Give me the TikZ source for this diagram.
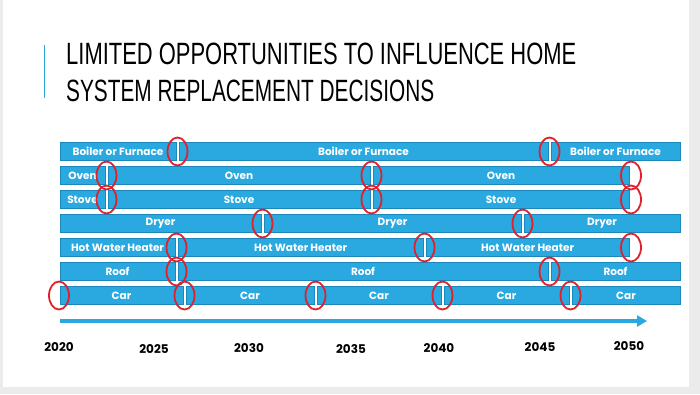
\documentclass[tikz,border=0pt]{standalone}
\usepackage{fontspec}
\setmainfont{Poppins}
\newfontfamily\titlefont{Liberation Sans}
\usetikzlibrary{shapes.geometric,arrows.meta}
\definecolor{barblue}{HTML}{2AA9E0}
\definecolor{baredge}{HTML}{1B88BC}
\definecolor{ringred}{HTML}{E0202A}
\definecolor{slidegray}{HTML}{EBEBEB}
\tikzset{
  segbox/.style={draw=baredge, fill=barblue, line width=0.7pt, minimum height=18pt,
    inner sep=0pt, text=white, font=\fontsize{10.5}{11}\selectfont\bfseries},
  ring/.style={ellipse, draw=ringred, line width=1.8pt, minimum width=20pt,
    minimum height=28pt, inner sep=0pt},
  year/.style={font=\fontsize{12}{12}\selectfont\bfseries, text=black, inner sep=0pt},
  timeline/.style={draw=barblue, line width=3.2pt, -{Triangle[length=10pt,width=11pt]}},
}
\newcommand\segnode[5]{\node[segbox, minimum width={#3pt-#2pt}] (#1) at ({(#2+#3)/2},#4) {#5};}
\begin{document}
\begin{tikzpicture}[x=1pt,y=-1pt]
\useasboundingbox (0,0) rectangle (700,394);
\fill[slidegray] (0,0) rectangle (700,394);
\fill[white] (3,0) rectangle (689,387);
% title
\draw[barblue, line width=0.9pt] (44,45) -- (44,98);
\node[anchor=west, inner sep=0pt] (t1) at (66,54) {\resizebox{510pt}{21.5pt}{\titlefont LIMITED OPPORTUNITIES TO INFLUENCE HOME}};
\node[anchor=west, inner sep=0pt] (t2) at (66,91) {\resizebox{368pt}{21.5pt}{\titlefont SYSTEM REPLACEMENT DECISIONS}};
% rows
\segnode{b1}{60}{176}{151.5}{Boiler or Furnace}
\segnode{b2}{179}{548}{151.5}{Boiler or Furnace}
\segnode{b3}{551}{680}{151.5}{Boiler or Furnace}
\segnode{o1}{60}{105}{175.5}{Oven}
\segnode{o2}{108}{370}{175.5}{Oven}
\segnode{o3}{373}{629}{175.5}{Oven}
\segnode{s1}{60}{105}{199.5}{Stove}
\segnode{s2}{108}{370}{199.5}{Stove}
\segnode{s3}{373}{629}{199.5}{Stove}
\segnode{d1}{60}{261}{223.5}{Dryer}
\segnode{d2}{264}{521}{223.5}{Dryer}
\segnode{d3}{524}{680}{223.5}{Dryer}
\segnode{h1}{60}{175}{247.5}{Hot Water Heater}
\segnode{h2}{178}{423}{247.5}{Hot Water Heater}
\segnode{h3}{426}{629}{247.5}{Hot Water Heater}
\segnode{r1}{60}{175}{271.5}{Roof}
\segnode{r2}{178}{548}{271.5}{Roof}
\segnode{r3}{551}{680}{271.5}{Roof}
\segnode{c1}{60}{183}{295.5}{Car}
\segnode{c2}{186}{314}{295.5}{Car}
\segnode{c3}{317}{441}{295.5}{Car}
\segnode{c4}{444}{569}{295.5}{Car}
\segnode{c5}{572}{680}{295.5}{Car}
% rings
\node[ring] (eb1) at (177.5,151.5) {};
\node[ring] (eb2) at (549.5,151.5) {};
\node[ring] (eo1) at (106.5,175.5) {};
\node[ring] (eo2) at (371.5,175.5) {};
\node[ring] (eo3) at (631,175.5) {};
\node[ring] (es1) at (106.5,199.5) {};
\node[ring] (es2) at (371.5,199.5) {};
\node[ring] (es3) at (631,199.5) {};
\node[ring] (ed1) at (262.5,223.5) {};
\node[ring] (ed2) at (522.5,223.5) {};
\node[ring] (eh1) at (176.5,247.5) {};
\node[ring] (eh2) at (424.5,247.5) {};
\node[ring] (eh3) at (631,247.5) {};
\node[ring] (er1) at (176.5,271.5) {};
\node[ring] (er2) at (549.5,271.5) {};
\node[ring] (ec0) at (59,295.5) {};
\node[ring] (ec1) at (184.5,295.5) {};
\node[ring] (ec2) at (315.5,295.5) {};
\node[ring] (ec3) at (442.5,295.5) {};
\node[ring] (ec4) at (570.5,295.5) {};
% timeline
\coordinate (tl0) at (60,321);
\coordinate (tl1) at (647,321);
\draw[timeline] (tl0) -- (tl1);
% years
\node[year] (y20) at (59,347) {2020};
\node[year] (y25) at (154,349) {2025};
\node[year] (y30) at (249,348) {2030};
\node[year] (y35) at (351,349) {2035};
\node[year] (y40) at (439,348) {2040};
\node[year] (y45) at (540,347) {2045};
\node[year] (y50) at (629,346) {2050};
\end{tikzpicture}
\end{document}
